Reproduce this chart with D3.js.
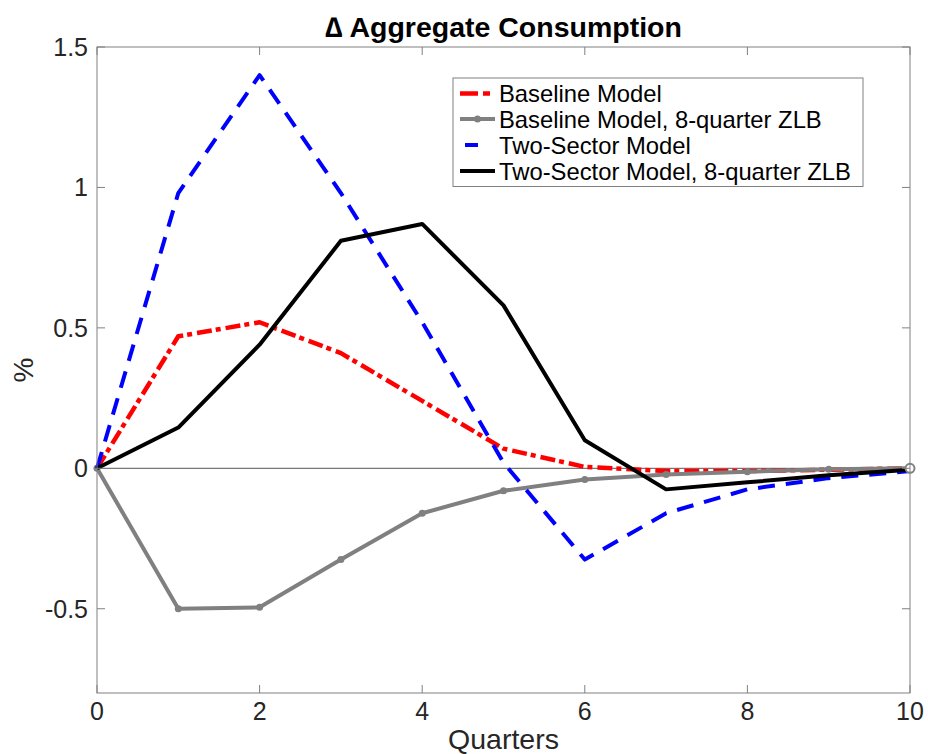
<!DOCTYPE html>
<html>
<head>
<meta charset="utf-8">
<script src="https://cdn.jsdelivr.net/npm/d3@7"></script>
<style>
  html, body { margin: 0; padding: 0; background: #fff; }
  svg { display: block; font-family: "Liberation Sans", Arial, Helvetica, sans-serif; }
</style>
</head>
<body>
<svg id="chart" width="928" height="754"></svg>
<script>
// Impulse responses of aggregate consumption (percent), quarters 0..10
const quarters = [0, 1, 2, 3, 4, 5, 6, 7, 8, 9, 10];
const baseline = [0, 0.47, 0.52, 0.41, 0.24, 0.07, 0.005, -0.01, -0.01, -0.005, 0];
const baselineZLB = [0, -0.50, -0.495, -0.325, -0.16, -0.08, -0.04, -0.022, -0.012, -0.003, 0];
const twoSector = [0, 0.98, 1.40, 0.98, 0.52, 0.02, -0.325, -0.16, -0.075, -0.035, -0.01];
const twoSectorZLB = [0, 0.145, 0.44, 0.81, 0.87, 0.58, 0.10, -0.075, -0.05, -0.025, -0.005];

const xTicks = [0, 2, 4, 6, 8, 10];
const yTicks = [-0.5, 0, 0.5, 1, 1.5];
const yTickLabels = ["-0.5", "0", "0.5", "1", "1.5"];

const seriesNames = [
  "Baseline Model",
  "Baseline Model, 8-quarter ZLB",
  "Two-Sector Model",
  "Two-Sector Model, 8-quarter ZLB"
];

const svg = d3.select("#chart");
const plotL = 97, plotR = 910, plotT = 47, plotB = 693;

const x = d3.scaleLinear().domain([0, 10]).range([plotL, plotR]);
const y = d3.scaleLinear().domain([-0.8, 1.5]).range([plotB, plotT]);

const axisColor = "#808080";
const textColor = "#262626";

// zero reference line
svg.append("line")
  .attr("x1", x(0)).attr("x2", x(10))
  .attr("y1", y(0)).attr("y2", y(0))
  .attr("stroke", "#555").attr("stroke-width", 1);

const line = d3.line().x((d, i) => x(quarters[i])).y(d => y(d));

const styles = [
  { data: baseline, color: "#ff0000", width: 4.5, dash: "15,4,5,5", lgDash: "18,5,7,5", lgOff: 0 },
  { data: baselineZLB, color: "#808080", width: 4, dash: null, markers: true },
  { data: twoSector, color: "#0000ff", width: 4, dash: "17,11", lgDash: "13,30", lgOff: -5 },
  { data: twoSectorZLB, color: "#000000", width: 4, dash: null }
];

styles.forEach(s => {
  svg.append("path")
    .datum(s.data)
    .attr("d", line)
    .attr("fill", "none")
    .attr("stroke", s.color)
    .attr("stroke-width", s.width)
    .attr("stroke-linejoin", "round")
    .attr("stroke-dasharray", s.dash);
  if (s.markers) {
    svg.append("g").selectAll("circle")
      .data(s.data)
      .join("circle")
      .attr("cx", (d, i) => x(quarters[i]))
      .attr("cy", d => y(d))
      .attr("r", 3.5)
      .attr("fill", s.color);
  }
});

// end marker of the ZLB baseline path sits above the other lines
svg.append("circle")
  .attr("cx", x(quarters[quarters.length - 1]))
  .attr("cy", y(baselineZLB[baselineZLB.length - 1]))
  .attr("r", 4.5)
  .attr("fill", "#fff").attr("stroke", "#808080").attr("stroke-width", 2);

// box with inward ticks on all four sides
const axes = svg.append("g");
axes.append("rect")
  .attr("x", plotL).attr("y", plotT)
  .attr("width", plotR - plotL).attr("height", plotB - plotT)
  .attr("fill", "none").attr("stroke", axisColor).attr("stroke-width", 1);

const tickLen = 8;
xTicks.forEach(t => {
  axes.append("line").attr("x1", x(t)).attr("x2", x(t))
    .attr("y1", plotB).attr("y2", plotB - tickLen)
    .attr("stroke", axisColor);
  axes.append("line").attr("x1", x(t)).attr("x2", x(t))
    .attr("y1", plotT).attr("y2", plotT + tickLen)
    .attr("stroke", axisColor);
  axes.append("text")
    .attr("x", x(t)).attr("y", plotB + 27)
    .attr("text-anchor", "middle")
    .attr("font-size", 25)
    .attr("fill", textColor)
    .text(t);
});
yTicks.forEach((t, i) => {
  axes.append("line").attr("x1", plotL).attr("x2", plotL + tickLen)
    .attr("y1", y(t)).attr("y2", y(t))
    .attr("stroke", axisColor);
  axes.append("line").attr("x1", plotR).attr("x2", plotR - tickLen)
    .attr("y1", y(t)).attr("y2", y(t))
    .attr("stroke", axisColor);
  axes.append("text")
    .attr("x", plotL - 9).attr("y", y(t) + 9)
    .attr("text-anchor", "end")
    .attr("font-size", 25)
    .attr("fill", textColor)
    .text(yTickLabels[i]);
});

// title and axis labels
svg.append("text")
  .attr("x", (plotL + plotR) / 2).attr("y", 37)
  .attr("text-anchor", "middle")
  .attr("font-size", 28.5).attr("font-weight", "bold")
  .attr("fill", "#000")
  .text("\u2206 Aggregate Consumption");

svg.append("text")
  .attr("x", (plotL + plotR) / 2).attr("y", 749)
  .attr("text-anchor", "middle")
  .attr("font-size", 28.5)
  .attr("fill", textColor)
  .text("Quarters");

svg.append("text")
  .attr("transform", `translate(33, ${(plotT + plotB) / 2}) rotate(-90)`)
  .attr("text-anchor", "middle")
  .attr("font-size", 28)
  .attr("fill", textColor)
  .text("%");

// legend
const lg = svg.append("g");
lg.append("rect")
  .attr("x", 453).attr("y", 78).attr("width", 410).attr("height", 108.5)
  .attr("fill", "#fff").attr("stroke", axisColor).attr("stroke-width", 1);
const rowY = [93.5, 119, 145, 171];
styles.forEach((s, i) => {
  lg.append("line")
    .attr("x1", 460).attr("x2", 495)
    .attr("y1", rowY[i]).attr("y2", rowY[i])
    .attr("stroke", s.color).attr("stroke-width", s.width)
    .attr("stroke-dasharray", s.lgDash || null)
    .attr("stroke-dashoffset", s.lgOff || 0);
  if (s.markers) {
    lg.append("circle").attr("cx", 477.5).attr("cy", rowY[i]).attr("r", 3.5).attr("fill", s.color);
  }
  lg.append("text")
    .attr("x", 499).attr("y", rowY[i] + 8.5)
    .attr("font-size", 23.8)
    .attr("fill", "#000")
    .text(seriesNames[i]);
});
</script>
</body>
</html>
